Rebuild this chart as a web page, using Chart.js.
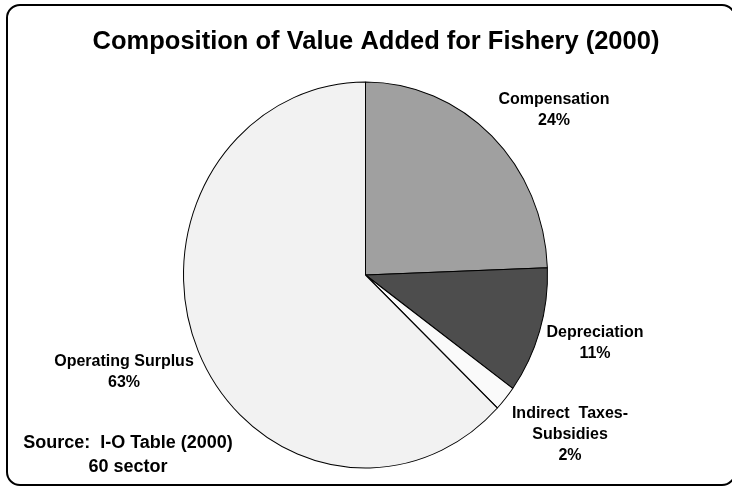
<!DOCTYPE html>
<html>
<head>
<meta charset="utf-8">
<script src="https://cdn.jsdelivr.net/npm/chart.js@4.4.0/dist/chart.umd.min.js"></script>
<style>
  html, body { margin: 0; padding: 0; background: #fff; }
  #wrap { position: relative; width: 732px; height: 489px; overflow: hidden; }
  #frame { position: absolute; left: 6px; top: 4px; width: 726px; height: 478px;
           border: 2px solid #000; border-radius: 14px; }
  #pie { position: absolute; left: 0; top: 0; }
</style>
</head>
<body>
<div id="wrap">
  <div id="frame"></div>
  <canvas id="pie" width="732" height="489"></canvas>
</div>
<script>
// Dados
const titleText = 'Composition of Value Added for Fishery (2000)';
const categories = ['Compensation', 'Depreciation', 'Indirect Taxes-Subsidies', 'Operating Surplus'];
const shares = [24.4, 10.6, 2.1, 62.9];
const labelLines = [['Compensation'], ['Depreciation'], ['Indirect  Taxes-', 'Subsidies'], ['Operating Surplus']];
const sourceLines = ['Source:  I-O Table (2000)', '60 sector'];

// Estilo
const sliceColors = ['#a0a0a0', '#4d4d4d', '#fafafa', '#f2f2f2'];
const FONT = '"Liberation Sans", Arial, sans-serif';
const labelPos = [
  { x: 554, y: 104 },
  { x: 595, y: 337 },
  { x: 570, y: 418 },
  { x: 124, y: 366 }
];
const yStretch = 193 / 182; // a pizza original é levemente oval

// Estica a pizza no eixo Y
const ovalPlugin = {
  id: 'oval',
  beforeDatasetsDraw(chart) {
    const arc = chart.getDatasetMeta(0).data[0];
    const ctx = chart.ctx;
    ctx.save();
    ctx.translate(arc.x, arc.y);
    ctx.scale(1, yStretch);
    ctx.translate(-arc.x, -arc.y);
  },
  afterDatasetsDraw(chart) {
    chart.ctx.restore();
  }
};

// Título, rótulos e fonte
const textPlugin = {
  id: 'texts',
  afterDraw(chart) {
    const ctx = chart.ctx;
    ctx.save();
    ctx.fillStyle = '#000';
    ctx.textAlign = 'center';
    ctx.textBaseline = 'alphabetic';

    ctx.font = 'bold 25.5px ' + FONT;
    ctx.fillText(titleText, 376, 49);

    ctx.font = 'bold 16px ' + FONT;
    shares.forEach((v, i) => {
      const lines = labelLines[i].concat([Math.round(v) + '%']);
      lines.forEach((t, j) => ctx.fillText(t, labelPos[i].x, labelPos[i].y + j * 21));
    });

    ctx.font = 'bold 18px ' + FONT;
    sourceLines.forEach((t, j) => ctx.fillText(t, 128, 448 + j * 24));
    ctx.restore();
  }
};

new Chart(document.getElementById('pie'), {
  type: 'pie',
  data: {
    labels: categories,
    datasets: [{
      data: shares,
      backgroundColor: sliceColors,
      borderColor: '#000',
      borderWidth: 1,
      radius: 182
    }]
  },
  options: {
    responsive: false,
    animation: false,
    layout: { padding: { left: 100, right: 101, top: 80, bottom: 19 } },
    plugins: {
      legend: { display: false },
      title: { display: false },
      tooltip: { enabled: false }
    }
  },
  plugins: [ovalPlugin, textPlugin]
});
</script>
</body>
</html>
